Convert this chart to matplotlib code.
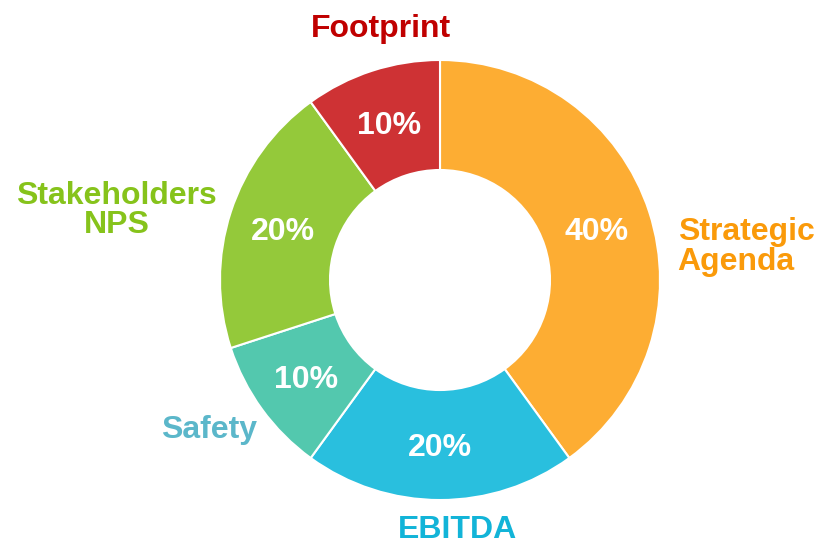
import matplotlib
matplotlib.use("Agg")
import matplotlib.pyplot as plt

categories = ["Strategic\nAgenda", "EBITDA", "Safety", "Stakeholders\nNPS", "Footprint"]
values = [40, 20, 10, 20, 10]
slice_colors = ["#FDAD33", "#29BFDE", "#53C8AE", "#94C93A", "#CE3234"]
label_colors = ["#FA9A0A", "#12B4D8", "#5BB7CA", "#86C31B", "#C00000"]
label_pos = [(1.08, 0.15), (0.08, -1.135), (-1.05, -0.68), (-1.47, 0.315), (-0.27, 1.14)]
label_ha = ["left", "center", "center", "center", "center"]

plt.rcParams['font.family'] = ['Liberation Sans', 'DejaVu Sans']
fig = plt.figure(figsize=(8.17, 5.46), dpi=100)
ax = fig.add_axes([0, 0, 1, 1])
wedges, texts, autotexts = ax.pie(
    values, colors=slice_colors, startangle=90, counterclock=False,
    radius=1.0, wedgeprops=dict(width=0.5, edgecolor="white", linewidth=1.5),
    autopct=lambda p: f"{p:.0f}%", pctdistance=0.75,
    textprops=dict(color="white", fontsize=23, fontweight="bold"))
for t in autotexts:
    x, y = t.get_position()
    t.set_position((x, y - 0.015))
for cat, col, pos, ha in zip(categories, label_colors, label_pos, label_ha):
    ax.text(pos[0], pos[1], cat, color=col, fontsize=23, fontweight="bold",
            ha=ha, va="center", linespacing=0.98)
ax.set_xlim(-2.0, 1.7136)
ax.set_ylim(-1.209, 1.2727)
ax.set_aspect("auto")
ax.axis("off")
fig.savefig("out.png", dpi=100)
